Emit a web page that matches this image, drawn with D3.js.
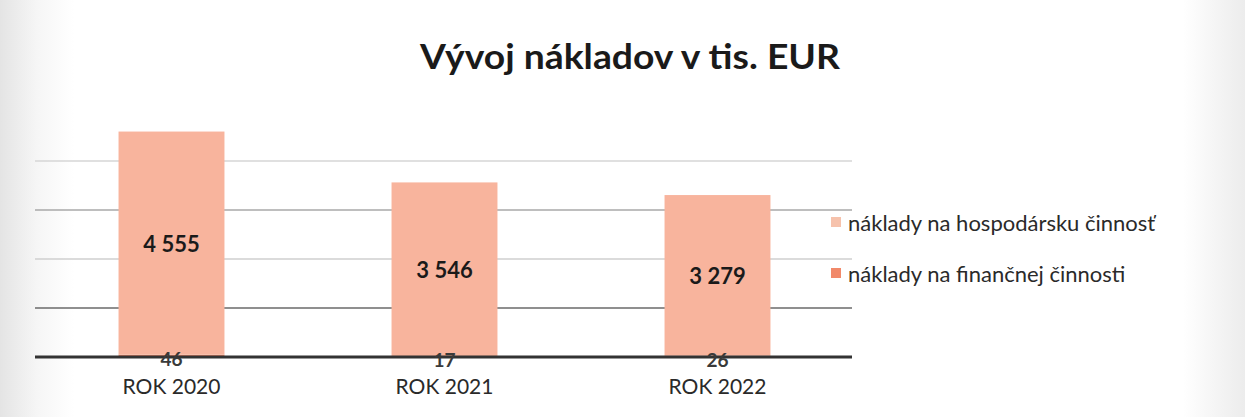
<!DOCTYPE html>
<html><head><meta charset="utf-8">
<script src="https://cdn.jsdelivr.net/npm/d3@7"></script>
<style>html,body{margin:0;padding:0;background:#fff;}svg{display:block;}</style>
</head><body>
<script>
const categories = ["ROK 2020", "ROK 2021", "ROK 2022"];
const hospodarska = [4555, 3546, 3279];
const financna = [46, 17, 26];
const seriesNames = ["náklady na hospodársku činnosť", "náklady na finančnej činnosti"];
const yTicks = [1000, 2000, 3000, 4000];
const title = "Vývoj nákladov v tis. EUR";

const W = 1245, H = 417;
const svg = d3.select("body").append("svg").attr("width", W).attr("height", H);

// scanned-page background
const defs = svg.append("defs");
const g1 = defs.append("linearGradient").attr("id","bg").attr("x1","0").attr("x2","1").attr("y1","0").attr("y2","0");
g1.append("stop").attr("offset","0").attr("stop-color","#e4e4e4");
g1.append("stop").attr("offset","0.03").attr("stop-color","#f6f6f6");
g1.append("stop").attr("offset","0.06").attr("stop-color","#ffffff");
g1.append("stop").attr("offset","0.95").attr("stop-color","#ffffff");
g1.append("stop").attr("offset","1").attr("stop-color","#ececec");
svg.append("rect").attr("width",W).attr("height",H).attr("fill","url(#bg)");

const x = d3.scaleBand().domain(categories).range([35, 854]).paddingInner(0.612).paddingOuter(0.306);
const y = d3.scaleLinear().domain([0, 5000]).range([357, 112]);

const fmt = v => d3.format(",")(v).replace(/,/g, " ");

// gridlines
const gridColors = {1000:"#6a6a6a", 2000:"#cfcfcf", 3000:"#a8a8a8", 4000:"#d6d6d6"};
svg.append("g").selectAll("line").data(yTicks).join("line")
  .attr("x1", 35).attr("x2", 852)
  .attr("y1", d => y(d)).attr("y2", d => y(d))
  .attr("stroke", d => gridColors[d]).attr("stroke-width", 1.3);

const colors = ["#f8b49d", "#f1896a"];
const data = categories.map((c, i) => ({cat: c, fin: financna[i], hosp: hospodarska[i]}));
const stack = d3.stack().keys(["fin", "hosp"])(data);

svg.append("g").selectAll("g").data(stack).join("g")
  .attr("fill", (d, i) => i === 0 ? colors[1] : colors[0])
  .selectAll("rect").data(d => d).join("rect")
  .attr("x", d => x(d.data.cat)).attr("width", x.bandwidth())
  .attr("y", d => y(d[1])).attr("height", d => y(d[0]) - y(d[1]));

// axis baseline
const xAxis = svg.append("g").attr("transform", `translate(0,${y(0)})`)
  .call(d3.axisBottom(x).tickSize(0).tickPadding(22));
xAxis.select(".domain").attr("stroke", "#333").attr("stroke-width", 3).attr("d", "M35,0H852");
xAxis.selectAll("text").attr("font-family", "Lato, 'Open Sans', sans-serif").attr("font-size", 21)
  .attr("fill", "#2a2a2a").attr("dy", "0.71em");

// value labels
svg.append("g").selectAll("text").data(stack[1]).join("text")
  .attr("x", d => x(d.data.cat) + x.bandwidth()/2)
  .attr("y", d => (y(d[0]) + y(d[1]))/2)
  .attr("text-anchor","middle").attr("dominant-baseline","central")
  .attr("font-family","Lato, sans-serif").attr("font-weight","bold").attr("font-size",22)
  .attr("fill","#1a1a1a").text(d => fmt(d.data.hosp));

svg.append("g").selectAll("text").data(stack[0]).join("text")
  .attr("x", d => x(d.data.cat) + x.bandwidth()/2)
  .attr("y", d => (y(d[0]) + y(d[1]))/2 + 3)
  .attr("text-anchor","middle").attr("dominant-baseline","central")
  .attr("font-family","Lato, sans-serif").attr("font-weight","bold").attr("font-size",19)
  .attr("fill","#3a3a3a").text(d => fmt(d.data.fin));

// title
svg.append("text").attr("x", 630).attr("y", 69).attr("text-anchor","middle")
  .attr("font-family","Lato, sans-serif").attr("font-weight","bold").attr("font-size",35)
  .attr("fill","#1a1a1a").attr("textLength", 420).attr("lengthAdjust","spacingAndGlyphs").text(title);

// legend
const legend = svg.append("g").selectAll("g").data(seriesNames).join("g")
  .attr("transform", (d, i) => `translate(831,${222 + i*51})`);
legend.append("rect").attr("x", 0).attr("y", -5).attr("width", 10).attr("height", 10)
  .attr("fill", (d, i) => i === 0 ? "#f6c2ac" : colors[1]);
legend.append("text").attr("x", 17).attr("y", 0).attr("dominant-baseline","central")
  .attr("font-family","Lato, sans-serif").attr("font-size",22).attr("fill","#2a2a2a")
  .text(d => d);
</script>
</body></html>
